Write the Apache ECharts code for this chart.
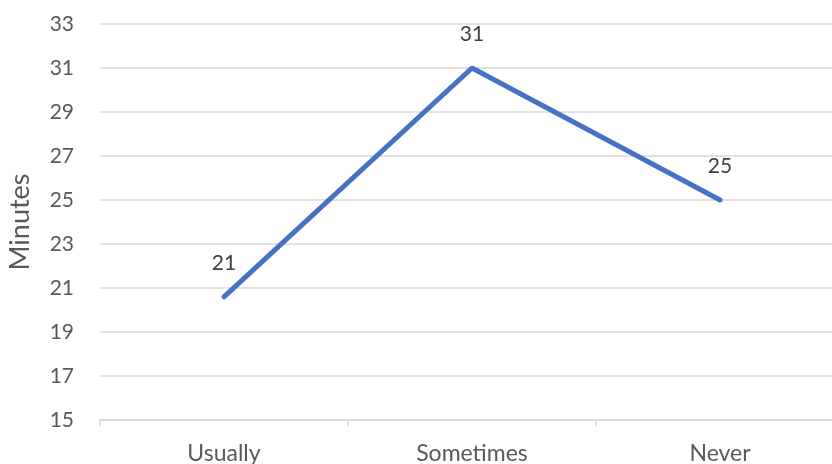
<!DOCTYPE html>
<html><head><meta charset="utf-8">
<script src="https://cdn.jsdelivr.net/npm/echarts@6/dist/echarts.min.js"></script>
<style>html,body{margin:0;padding:0;background:#fff}#c{width:832px;height:464px}</style>
</head><body><div id="c"></div>
<script>
const categories = ['Usually', 'Sometimes', 'Never'];
const minutes = [20.6, 31, 25];
const yMin = 15, yMax = 33, yStep = 2;

const chart = echarts.init(document.getElementById('c'));
chart.setOption({
  animation: false,
  textStyle: { fontFamily: 'Lato' },
  grid: { left: 100, top: 24, bottom: 44, width: 744, outerBoundsMode: 'none' },
  xAxis: {
    type: 'category',
    data: categories,
    boundaryGap: true,
    axisLine: { lineStyle: { color: '#d9d9d9', width: 1.5 } },
    axisTick: { show: true, length: 6, lineStyle: { color: '#d9d9d9', width: 1.5 } },
    axisLabel: { color: '#595959', fontSize: 23, margin: 22 }
  },
  yAxis: {
    type: 'value',
    min: yMin, max: yMax, interval: yStep,
    name: 'Minutes',
    nameLocation: 'middle',
    nameGap: 66,
    nameRotate: 90,
    nameTextStyle: { color: '#595959', fontSize: 27 },
    axisLine: { show: false },
    axisTick: { show: false },
    axisLabel: { color: '#595959', fontSize: 21, margin: 26 },
    splitLine: { lineStyle: { color: '#d9d9d9', width: 1.5 } }
  },
  series: [{
    type: 'line',
    data: minutes,
    symbol: 'circle',
    symbolSize: 1,
    showSymbol: true,
    itemStyle: { color: '#4472c4' },
    lineStyle: { color: '#4472c4', width: 5, cap: 'round' },
    label: {
      show: true,
      position: 'top',
      distance: 23,
      color: '#404040',
      fontSize: 21,
      formatter: p => Math.round(p.value)
    }
  }]
});
</script></body></html>
